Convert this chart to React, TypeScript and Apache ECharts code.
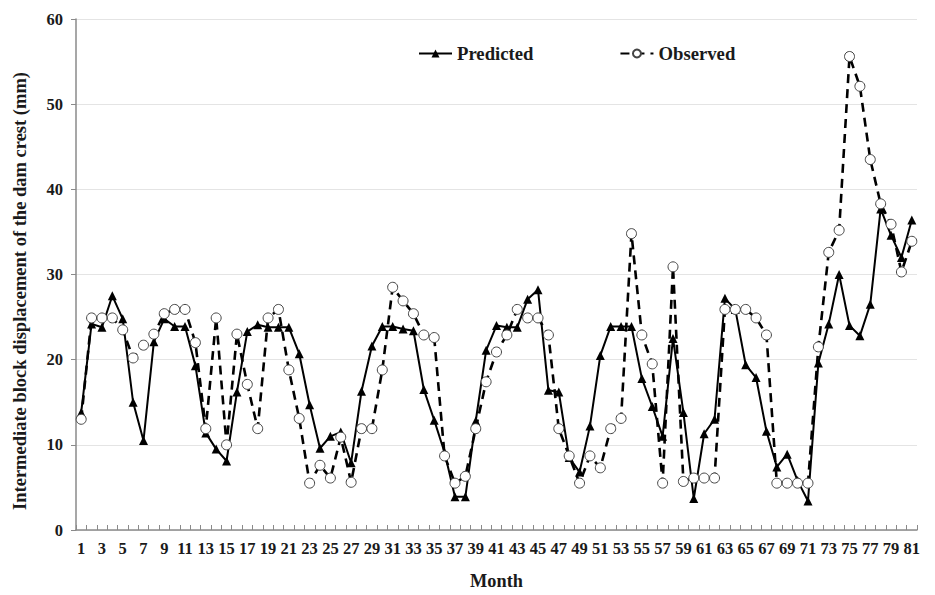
import React, { useEffect, useRef } from "react";
import * as echarts from "echarts";

const months: string[] = Array.from({ length: 81 }, (_, i) => String(i + 1));

const predicted: number[] = [
  13.8, 24.2, 23.8, 27.5, 24.8, 15.0, 10.5, 22.1, 24.8, 23.9,
  23.9, 19.3, 11.4, 9.5, 8.1, 16.2, 23.3, 24.1, 23.8, 23.8,
  23.8, 20.7, 14.7, 9.6, 11.0, 11.5, 7.9, 16.3, 21.6, 23.9,
  23.9, 23.6, 23.4, 16.5, 12.9, 9.1, 3.9, 3.9, 12.8, 21.1,
  24.0, 23.8, 23.8, 27.1, 28.2, 16.4, 16.2, 8.5, 6.8, 12.2,
  20.5, 23.9, 23.9, 23.9, 17.8, 14.5, 11.0, 22.5, 13.8, 3.7,
  11.3, 13.0, 27.2, 25.9, 19.4, 17.9, 11.6, 7.4, 8.9, 5.8,
  3.4, 19.6, 24.2, 30.0, 24.0, 22.8, 26.5, 37.7, 34.6, 32.0,
  36.4,
];

const observed: number[] = [
  13.0, 24.9, 24.9, 24.9, 23.5, 20.2, 21.7, 23.0, 25.4, 25.9,
  25.9, 22.0, 11.9, 24.9, 10.0, 23.0, 17.1, 11.9, 24.9, 25.9,
  18.8, 13.1, 5.5, 7.6, 6.1, 10.9, 5.6, 11.9, 11.9, 18.8,
  28.5, 26.9, 25.4, 22.9, 22.6, 8.7, 5.5, 6.3, 11.9, 17.4,
  20.9, 22.9, 25.9, 24.9, 24.9, 22.9, 11.9, 8.7, 5.5, 8.7,
  7.3, 11.9, 13.1, 34.8, 22.9, 19.5, 5.5, 30.9, 5.7, 6.1,
  6.1, 6.1, 25.9, 25.9, 25.9, 24.9, 22.9, 5.5, 5.5, 5.5,
  5.5, 21.5, 32.6, 35.2, 55.6, 52.1, 43.5, 38.3, 35.9, 30.3,
  33.9,
];

const FONT = "Liberation Serif";
const TXT = "#1a1a1a";

export default function App() {
  const ref = useRef<HTMLDivElement>(null);
  useEffect(() => {
    if (!ref.current) return;
    const chart = echarts.init(ref.current, null, { renderer: "svg" });
    chart.setOption({
      animation: false,
      backgroundColor: "#fff",
      grid: { left: 76, right: 18, top: 19, bottom: 60, containLabel: false },
      legend: {
        left: 413,
        top: 39,
        itemWidth: 33,
        itemHeight: 10,
        itemGap: 86,
        textStyle: { fontFamily: FONT, fontWeight: "bold", fontSize: 18.7, color: TXT },
        data: ["Predicted", "Observed"],
      },
      graphic: [
        {
          type: "text",
          x: 20,
          y: 291,
          rotation: Math.PI / 2,
          style: {
            text: "Intermediate block displacement of the dam crest (mm)",
            fontFamily: FONT,
            fontWeight: "bold",
            fontSize: 18.5,
            fill: TXT,
            align: "center",
            verticalAlign: "middle",
          },
        },
      ],
      xAxis: {
        type: "category",
        data: months,
        boundaryGap: true,
        name: "Month",
        nameLocation: "middle",
        nameGap: 42,
        nameTextStyle: { fontFamily: FONT, fontWeight: "bold", fontSize: 18.3, color: TXT },
        axisLine: { lineStyle: { color: "#8a8a8a", width: 1.5 } },
        axisTick: { show: true, inside: true, length: 5, interval: 0, lineStyle: { color: "#8a8a8a" } },
        axisLabel: { interval: 1, fontFamily: FONT, fontWeight: "bold", fontSize: 16.5, color: TXT, margin: 10 },
        splitLine: { show: false },
      },
      yAxis: {
        type: "value",
        min: 0,
        max: 60,
        interval: 10,
        axisLine: { show: true, lineStyle: { color: "#8a8a8a", width: 1.5 } },
        axisTick: { show: true, length: 5, lineStyle: { color: "#8a8a8a" } },
        axisLabel: { fontFamily: FONT, fontWeight: "bold", fontSize: 16.5, color: TXT, margin: 13 },
        splitLine: { show: true, lineStyle: { color: "#e4e4e4", width: 1 } },
      },
      series: [
        {
          name: "Predicted",
          type: "line",
          data: predicted,
          symbol: "triangle",
          symbolSize: 9,
          showAllSymbol: true,
          itemStyle: { color: "#000" },
          lineStyle: { color: "#000", width: 2 },
          z: 2,
        },
        {
          name: "Observed",
          type: "line",
          data: observed,
          symbol: "circle",
          symbolSize: 10,
          showAllSymbol: true,
          itemStyle: { color: "#fff", borderColor: "#444", borderWidth: 1 },
          lineStyle: { color: "#000", width: 2.6, type: [9, 6] },
          z: 3,
        },
      ],
    });
    return () => chart.dispose();
  }, []);
  return <div ref={ref} style={{ width: 935, height: 595, position: "absolute", left: 0, top: 0 }} />;
}
